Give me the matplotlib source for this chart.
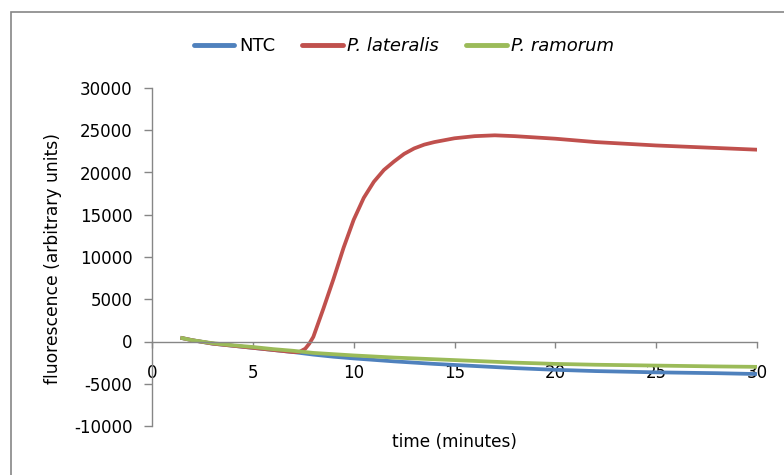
import numpy as np
from matplotlib import pyplot as plt
from matplotlib.patches import Rectangle

plt.rcParams['axes.unicode_minus'] = False

# ---------------------------------------------------------------
# values (time in minutes, fluorescence)
t_ntc = [1.5, 2, 3, 4, 5, 6, 7, 8, 9, 10, 12, 14, 16, 18, 20, 22, 25, 28, 30]
ntc = [400, 150, -250, -500, -750, -1000, -1250, -1550, -1800, -2000,
	-2350, -2650, -2900, -3150, -3350, -3500, -3650, -3750, -3850]

t_lat = [1.5, 2, 3, 4, 5, 6, 7, 7.3, 7.6, 7.8, 8, 8.5, 9, 9.5, 10, 10.5, 11, 11.5,
	12, 12.5, 13, 13.5, 14, 15, 16, 17, 18, 20, 22, 25, 28, 30]
lateralis = [400, 150, -250, -500, -750, -1000, -1250, -1250, -850, -250, 550, 3900,
	7400, 11100, 14400, 17000, 18900, 20300, 21300, 22200, 22850, 23300,
	23600, 24050, 24300, 24400, 24300, 24000, 23600, 23200, 22900, 22700]

t_ram = [1.5, 2, 3, 4, 5, 6, 7, 8, 9, 10, 12, 14, 16, 18, 20, 22, 25, 28, 30]
ramorum = [400, 150, -200, -450, -650, -900, -1100, -1350, -1500, -1650,
	-1900, -2100, -2300, -2500, -2650, -2750, -2850, -2950, -3000]

x_ticks = [0, 5, 10, 15, 20, 25, 30]
y_ticks = [-10000, -5000, 0, 5000, 10000, 15000, 20000, 25000, 30000]

# ---------------------------------------------------------------
W, H = 784, 475
fig = plt.figure(figsize=(W/100, H/100), dpi=100)
ax = fig.add_axes([152/W, 1-426/H, (757-152)/W, (426-88)/H])

grey = '#868686'
lw = 2.7
ax.plot(t_ntc, ntc, color='#4F81BD', linewidth=lw, label='NTC', solid_joinstyle='round')
ax.plot(t_lat, lateralis, color='#C0504D', linewidth=lw, label='P. lateralis', solid_joinstyle='round')
ax.plot(t_ram, ramorum, color='#9BBB59', linewidth=lw, label='P. ramorum', solid_joinstyle='round')

ax.set_xlim(0, 30)
ax.set_ylim(-10000, 30000)
ax.set_xticks(x_ticks)
ax.set_yticks(y_ticks)

ax.spines['top'].set_visible(False)
ax.spines['right'].set_visible(False)
ax.spines['bottom'].set_position(('data', 0))
for s in ['left', 'bottom']:
	ax.spines[s].set_color(grey)
	ax.spines[s].set_linewidth(1.0)

ax.tick_params(axis='y', direction='out', length=6, width=1, color=grey,
	labelsize=12, pad=8, labelcolor='black')
ax.tick_params(axis='x', direction='out', length=4.5, width=1, color=grey,
	labelsize=12, pad=12, labelcolor='black')

fig.text(53/W, 1-258/H, 'fluorescence (arbitrary units)', rotation=90,
	ha='center', va='center', fontsize=12.3)
fig.text(454/W, 1-442/H, 'time (minutes)', ha='center', va='center', fontsize=12.2)

leg = fig.legend(loc='center', bbox_to_anchor=(404/W, 1-46/H), ncol=3, frameon=False,
	handlelength=2.25, handletextpad=0.25, columnspacing=1.5,
	prop={'size': 13})
for txt in leg.get_texts()[1:]:
	txt.set_fontstyle('italic')
for line in leg.get_lines():
	line.set_linewidth(3.5)
	line.set_solid_capstyle('round')

# chart area border (only top and left edges visible)
fig.add_artist(Rectangle((11/W, -0.2), 1.2, 1.2 - 12/H, transform=fig.transFigure,
	fill=False, edgecolor=grey, linewidth=1.2))

fig.savefig('out.png', dpi=100)
